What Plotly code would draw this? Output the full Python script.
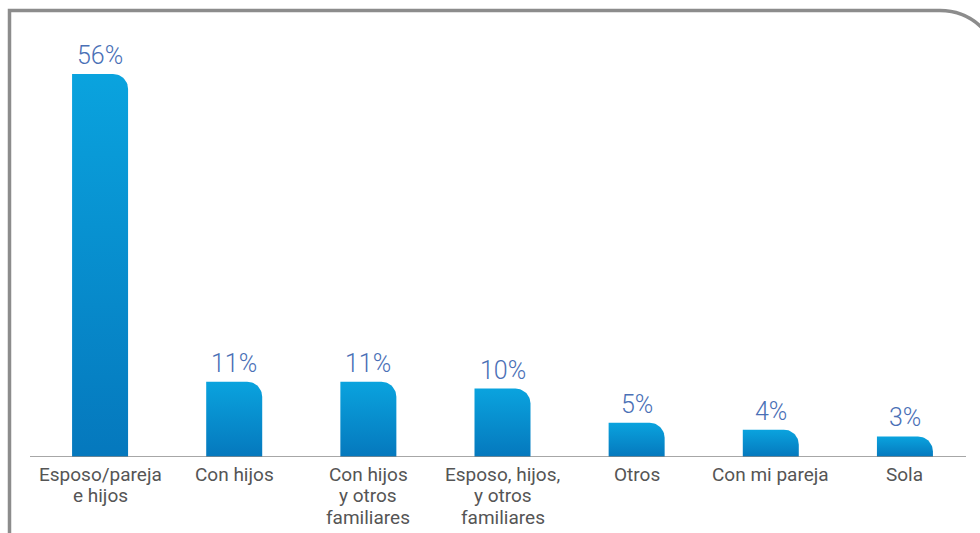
import numpy as np
import plotly.graph_objects as go

# Data
categories = [
    ["Esposo/pareja", "e hijos"],
    ["Con hijos"],
    ["Con hijos", "y otros", "familiares"],
    ["Esposo, hijos,", "y otros", "familiares"],
    ["Otros"],
    ["Con mi pareja"],
    ["Sola"],
]
values = [56, 11, 11, 10, 5, 4, 3]
value_labels = [f"{v}%" for v in values]

# Canvas / plot geometry (pixels)
W, H = 980, 533
ML, MR, MT, MB = 33, 8, 30, 76
PW, PH = W - ML - MR, H - MT - MB
X_RANGE = [-0.5, len(categories) - 0.5]
PX_PER_PCT = 6.84
Y_RANGE = [0, PH / PX_PER_PCT]

px_x = PW / (X_RANGE[1] - X_RANGE[0])
px_y = PH / (Y_RANGE[1] - Y_RANGE[0])

BAR_W_PX = 56
RADIUS_PX = 15
half = BAR_W_PX / 2 / px_x
rx = RADIUS_PX / px_x
ry = RADIUS_PX / px_y


def bar_outline(xc, v):
    """Bar outline in data units with a rounded top-right corner."""
    x0, x1 = xc - half, xc + half
    t = np.linspace(np.pi / 2, 0, 16)
    ax = (x1 - rx) + rx * np.cos(t)
    ay = (v - ry) + ry * np.sin(t)
    xs = [x0, x0] + list(ax) + [x1, x0]
    ys = [0, v] + list(ay) + [0, 0]
    return xs, ys


fig = go.Figure()
for i, v in enumerate(values):
    xs, ys = bar_outline(i, v)
    fig.add_trace(go.Scatter(
        x=xs, y=ys, mode="lines", fill="toself",
        line=dict(width=0, color="rgba(0,0,0,0)"),
        fillgradient=dict(type="vertical",
                          colorscale=[[0, "#0578bd"], [1, "#0aa3de"]]),
        hoverinfo="skip", showlegend=False,
    ))

# Value labels above bars
for i, (v, lab) in enumerate(zip(values, value_labels)):
    fig.add_annotation(
        x=i, y=v, text=lab, showarrow=False, yanchor="bottom", yshift=2,
        font=dict(family="Roboto", size=25, color="#4a70b6", weight=300),
    )

# Category labels under the baseline, one line at a time (tight leading)
LINE_GAP = 21.5
FIRST_LINE = 17
for i, lines in enumerate(categories):
    for j, line in enumerate(lines):
        fig.add_annotation(
            x=i, y=0, text=line, showarrow=False, yanchor="middle",
            yshift=-(FIRST_LINE + j * LINE_GAP),
            font=dict(family="Roboto", size=19, color="#555555"),
        )


def to_paper(px, py):
    return (px - ML) / PW, (H - MB - py) / PH


# Outer frame: left and top edges with a rounded top-right corner
k = 0.5523
R = 60
fx, fy = 9.5, 10.5
cx = 940
pts = [
    ("M", [(fx, H + 5)]),
    ("L", [(fx, fy)]),
    ("L", [(cx, fy)]),
    ("C", [(cx + k * R, fy), (cx + R, fy + R - k * R), (cx + R, fy + R)]),
]
path = ""
for cmd, ps in pts:
    coords = " ".join(f"{a:.5f},{b:.5f}" for a, b in (to_paper(*p) for p in ps))
    path += f"{cmd} {coords} "
fig.add_shape(type="path", path=path.strip(), xref="paper", yref="paper",
              line=dict(color="#8c8c8c", width=3.5), layer="above")

# Baseline
bx0, _ = to_paper(30, 0)
bx1, _ = to_paper(966, 0)
fig.add_shape(type="line", xref="paper", yref="y", x0=bx0, x1=bx1, y0=0, y1=0,
              line=dict(color="#8a8a8a", width=1.6), layer="above")

fig.update_layout(
    width=W, height=H,
    margin=dict(l=ML, r=MR, t=MT, b=MB),
    paper_bgcolor="white", plot_bgcolor="white",
    xaxis=dict(range=X_RANGE, showticklabels=False,
               showgrid=False, zeroline=False, showline=False, ticks="",
               automargin=False, fixedrange=True),
    yaxis=dict(range=Y_RANGE, showgrid=False, zeroline=False, showline=False,
               showticklabels=False, fixedrange=True, automargin=False),
    showlegend=False,
)

fig.write_html("out.html")
